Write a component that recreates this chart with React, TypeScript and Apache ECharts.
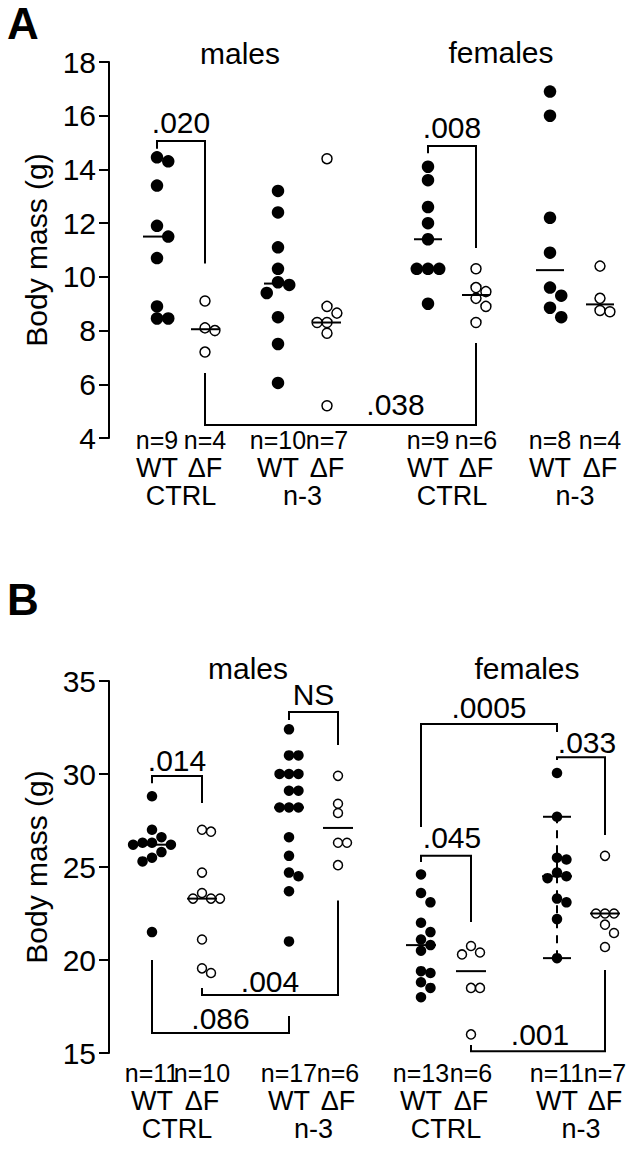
import React, { useEffect, useRef } from "react";
import * as echarts from "echarts";

// ---------------- Panel A data: body mass (g) ----------------
const aMalesCtrlWT = [14.45, 14.3, 13.4, 11.9, 11.5, 10.7, 8.9, 8.45, 8.45];
const aMalesCtrlDF = [9.1, 8.1, 8.0, 7.2];
const aMalesN3WT = [13.2, 12.4, 11.1, 10.3, 9.8, 9.7, 9.4, 8.5, 7.5, 6.05];
const aMalesN3DF = [14.4, 8.9, 8.65, 8.3, 8.3, 7.9, 5.2];
const aFemalesCtrlWT = [14.1, 13.6, 12.6, 12.0, 11.4, 10.3, 10.3, 10.3, 9.0];
const aFemalesCtrlDF = [10.3, 9.6, 9.45, 9.2, 8.9, 8.3];
const aFemalesN3WT = [16.9, 16.0, 12.2, 10.9, 9.6, 9.3, 8.85, 8.5];
const aFemalesN3DF = [10.4, 9.2, 8.75, 8.7];
const aYRange = { min: 4, max: 18, interval: 2 };
const aBrackets = [
  { from: 0, to: 1, bar: 15.06, left: 14.77, right: 10.5, label: ".020", labelY: 15.75 },
  { from: 4, to: 5, bar: 14.87, left: 14.6, right: 11.07, label: ".008", labelY: 15.55 },
  { from: 1, to: 5, bar: 4.48, left: 6.42, right: 7.54, label: ".038", labelY: 5.23 },
];

// ---------------- Panel B data: body mass (g) ----------------
const bMalesCtrlWT = [28.8, 27.0, 26.6, 26.3, 26.3, 26.2, 26.2, 25.8, 25.5, 25.3, 21.5];
const bMalesCtrlDF = [27.0, 26.9, 24.7, 23.6, 23.3, 23.3, 23.3, 21.1, 19.55, 19.3];
const bMalesN3WT = [32.4, 31.0, 31.0, 30.0, 30.0, 30.0, 29.1, 29.1, 28.2, 28.2, 28.2, 26.6, 25.6, 24.7, 24.5, 23.7, 21.0];
const bMalesN3DF = [29.9, 28.4, 27.9, 26.3, 26.3, 25.1];
const bFemalesCtrlWT = [24.6, 23.6, 23.1, 22.0, 21.5, 21.1, 20.8, 20.5, 19.4, 19.3, 18.8, 18.5, 18.0];
const bFemalesCtrlDF = [20.75, 20.4, 20.3, 18.5, 18.5, 16.0];
const bFemalesN3WT = [30.05, 27.7, 25.5, 25.4, 24.7, 24.5, 24.4, 23.3, 23.1, 22.2, 20.1];
const bFemalesN3DF = [25.6, 22.5, 22.5, 22.5, 21.9, 21.45, 20.7];
const bFemalesN3WTBar = [20.1, 27.7];
const bYRange = { min: 15, max: 35, interval: 5 };
const bBrackets = [
  { from: 0, to: 1, bar: 29.89, left: 29.5, right: 28.44, label: ".014", labelY: 30.75 },
  { from: 2, to: 3, bar: 33.33, left: 32.9, right: 31.56, label: "NS", labelY: 34.25 },
  { from: 4, to: 6, bar: 32.69, left: 27.15, right: 32.26, label: ".0005", labelY: 33.55 },
  { from: 6, to: 7, bar: 30.9, left: 30.75, right: 26.72, label: ".033", labelY: 31.7 },
  { from: 4, to: 5, bar: 25.6, left: 25.27, right: 22.04, label: ".045", labelY: 26.56 },
  { from: 1, to: 3, bar: 18.12, left: 18.49, right: 23.2, label: ".004", labelY: 18.82 },
  { from: 0, to: 2, bar: 16.08, left: 20.0, right: 16.99, label: ".086", labelY: 16.88 },
  { from: 5, to: 7, bar: 15.1, left: 15.43, right: 19.46, label: ".001", labelY: 15.97 },
];

const genotypes = ["WT", "ΔF"];
const diets = ["CTRL", "n-3", "CTRL", "n-3"];
const sexes = ["males", "females"];

// ---------------- Layout (pixels) ----------------
const FONT = "'Liberation Sans', Arial, Helvetica, sans-serif";
const X_MIN = 109;
const X_MAX = 633;
const layoutA = {
  centers: [157, 205, 278, 327, 428, 476, 550, 600],
  top: 62, bottom: 438, dot: 12.5, open: 10, half: 14, labelMargin: -12,
  bracketLabelDx: [0, 0, 55],
  letter: { text: "A", x: 7, y: 23 },
  sexPos: [{ x: 240, y: 53 }, { x: 501, y: 52 }],
};
const layoutB = {
  centers: [152, 202, 289, 338, 421, 471, 557, 605],
  top: 681, bottom: 1053, dot: 10.5, open: 9, half: 15, labelMargin: 6,
  bracketLabelDx: [0, 0, 0, 6, 6, 0, 0, 2],
  letter: { text: "B", x: 7, y: 599 },
  sexPos: [{ x: 248, y: 668 }, { x: 527, y: 668 }],
};

function median(v: number[]) {
  const s = [...v].sort((a, b) => a - b);
  const n = s.length;
  return n % 2 ? s[(n - 1) / 2] : (s[n / 2 - 1] + s[n / 2]) / 2;
}

// simple beeswarm: horizontal offsets (px) so dots do not overlap
function swarm(values: number[], center: number, diam: number, pxPerUnit: number) {
  const order = values.map((_, i) => i).sort((a, b) => values[b] - values[a]);
  const placed: { dx: number; v: number }[] = [];
  const out: number[][] = new Array(values.length);
  const step = diam * 0.9;
  const minD2 = diam * diam * 0.8;
  for (const i of order) {
    const v = values[i];
    const cands = [0];
    for (let k = 1; k < 8; k++) cands.push(k * step, -k * step);
    for (const dx of cands) {
      const ok = placed.every((p) => {
        const dy = (p.v - v) * pxPerUnit;
        const ddx = p.dx - dx;
        return ddx * ddx + dy * dy >= minD2;
      });
      if (ok) {
        placed.push({ dx, v });
        out[i] = [center + dx, v];
        break;
      }
    }
  }
  return out;
}

function buildPanel(
  idx: number,
  groups: number[][],
  yr: { min: number; max: number; interval: number },
  brackets: any[],
  L: any
) {
  const grid = { left: X_MIN, width: X_MAX - X_MIN, top: L.top, height: L.bottom - L.top };
  const pxPerUnit = (L.bottom - L.top) / (yr.max - yr.min);
  const pairCenters = [0, 1, 2, 3].map((k) => (L.centers[2 * k] + L.centers[2 * k + 1]) / 2);
  const findIdx = (arr: number[], v: number) => arr.findIndex((c) => Math.abs(c - v) < 0.6);
  const base = { color: "#000", fontFamily: FONT };
  const hidden = { axisLine: { show: false }, axisTick: { show: false }, splitLine: { show: false } };
  // one label axis per genotype so that neighbouring labels are never thinned out
  const genoAxis = (parity: number) => {
    const vals = L.centers.filter((_: number, i: number) => i % 2 === parity);
    return {
      gridIndex: idx, type: "value", min: X_MIN, max: X_MAX, position: "bottom", ...hidden,
      axisLabel: {
        ...base, fontSize: 27, lineHeight: 28, margin: L.labelMargin,
        customValues: vals, hideOverlap: false, showMinLabel: true, showMaxLabel: true,
        rich: {
          n: { ...base, fontSize: 25, lineHeight: 28 },
          g: { ...base, fontSize: 27, lineHeight: 28 },
        },
        formatter: (v: number) => {
          const i = findIdx(L.centers, v);
          return i < 0 ? "" : `{n|n=${groups[i].length}}\n{g|${genotypes[i % 2]}}`;
        },
      },
    };
  };
  const xAxes = [
    genoAxis(0),
    genoAxis(1),
    {
      gridIndex: idx, type: "value", min: X_MIN, max: X_MAX, position: "bottom", ...hidden,
      axisLabel: {
        ...base, fontSize: 27, lineHeight: 28, margin: L.labelMargin + 56,
        customValues: pairCenters, hideOverlap: false, showMinLabel: true, showMaxLabel: true,
        formatter: (v: number) => {
          const i = findIdx(pairCenters, v);
          return i < 0 ? "" : diets[i];
        },
      },
    },
  ];
  const yAxis = {
    gridIndex: idx, type: "value", min: yr.min, max: yr.max, interval: yr.interval,
    axisLine: { show: true, lineStyle: { color: "#000", width: 2 } },
    axisTick: { show: true, length: 10, lineStyle: { color: "#000", width: 2 } },
    axisLabel: { fontSize: 30, color: "#000", fontFamily: FONT, margin: 13 },
    splitLine: { show: false },
    name: "Body mass (g)", nameLocation: "middle", nameGap: 56,
    nameTextStyle: { fontSize: 30, color: "#000", fontFamily: FONT },
  };
  const xi = idx * 3;
  const series: any[] = [];
  groups.forEach((g, k) => {
    const filled = k % 2 === 0;
    series.push({
      type: "scatter", xAxisIndex: xi, yAxisIndex: idx, silent: true, z: 3,
      symbol: "circle", symbolSize: filled ? L.dot : L.open,
      itemStyle: filled
        ? { color: "#000", opacity: 1 }
        : { color: "#fff", borderColor: "#000", borderWidth: 1.5, opacity: 1 },
      data: swarm(g, L.centers[k], filled ? L.dot : L.open + 1, pxPerUnit),
    });
  });
  series.push({
    type: "custom", xAxisIndex: xi, yAxisIndex: idx, silent: true, z: 4, clip: false,
    data: groups.map((g, k) => [L.centers[k], median(g)]),
    renderItem: (params: any, api: any) => {
      const x = api.value(0), m = api.value(1);
      const p1 = api.coord([x - L.half, m]);
      const p2 = api.coord([x + L.half, m]);
      return { type: "line", shape: { x1: p1[0], y1: p1[1], x2: p2[0], y2: p2[1] }, style: { stroke: "#000", lineWidth: 2 } };
    },
  });
  series.push({
    type: "custom", xAxisIndex: xi, yAxisIndex: idx, silent: true, z: 2, clip: false,
    data: brackets.map((b) => [(L.centers[b.from] + L.centers[b.to]) / 2, b.bar]),
    renderItem: (params: any, api: any) => {
      const b = brackets[params.dataIndex];
      const x1 = L.centers[b.from], x2 = L.centers[b.to];
      const pts = [api.coord([x1, b.left]), api.coord([x1, b.bar]), api.coord([x2, b.bar]), api.coord([x2, b.right])];
      const lp = api.coord([(x1 + x2) / 2 + L.bracketLabelDx[params.dataIndex], b.labelY]);
      return {
        type: "group",
        children: [
          { type: "polyline", shape: { points: pts }, style: { stroke: "#000", lineWidth: 2, fill: "none" } },
          {
            type: "text", x: lp[0], y: lp[1],
            style: { text: b.label, fontSize: 30, fontFamily: FONT, fill: "#000", align: "center", verticalAlign: "middle" },
          },
        ],
      };
    },
  });
  return { grid, xAxes, yAxis, series };
}

function buildOption() {
  const pA = buildPanel(0,
    [aMalesCtrlWT, aMalesCtrlDF, aMalesN3WT, aMalesN3DF, aFemalesCtrlWT, aFemalesCtrlDF, aFemalesN3WT, aFemalesN3DF],
    aYRange, aBrackets, layoutA);
  const pB = buildPanel(1,
    [bMalesCtrlWT, bMalesCtrlDF, bMalesN3WT, bMalesN3DF, bFemalesCtrlWT, bFemalesCtrlDF, bFemalesN3WT, bFemalesN3DF],
    bYRange, bBrackets, layoutB);
  // dashed range bar on the female n-3 WT group in panel B
  pB.series.push({
    type: "custom", xAxisIndex: 3, yAxisIndex: 1, silent: true, z: 2, clip: false,
    data: [[layoutB.centers[6], bFemalesN3WTBar[0], bFemalesN3WTBar[1]]],
    renderItem: (params: any, api: any) => {
      const x = api.value(0), lo = api.value(1), hi = api.value(2);
      const a = api.coord([x, lo]), b = api.coord([x, hi]);
      const l1 = api.coord([x - 14, lo]), r1 = api.coord([x + 14, lo]);
      const l2 = api.coord([x - 14, hi]), r2 = api.coord([x + 14, hi]);
      const st = { stroke: "#000", lineWidth: 2 };
      return {
        type: "group",
        children: [
          { type: "line", shape: { x1: a[0], y1: a[1], x2: b[0], y2: b[1] }, style: { ...st, lineDash: [8, 7] } },
          { type: "line", shape: { x1: l1[0], y1: l1[1], x2: r1[0], y2: r1[1] }, style: st },
          { type: "line", shape: { x1: l2[0], y1: l2[1], x2: r2[0], y2: r2[1] }, style: st },
        ],
      };
    },
  });
  const graphic: any[] = [];
  [layoutA, layoutB].forEach((L) => {
    graphic.push({
      type: "text", x: L.letter.x, y: L.letter.y,
      style: { text: L.letter.text, fontSize: 44, fontWeight: "bold", fontFamily: FONT, fill: "#000", verticalAlign: "middle" },
    });
    L.sexPos.forEach((p: any, k: number) => {
      graphic.push({
        type: "text", x: p.x, y: p.y,
        style: { text: sexes[k], fontSize: 30, fontFamily: FONT, fill: "#000", align: "center", verticalAlign: "middle" },
      });
    });
  });
  return {
    animation: false,
    backgroundColor: "#fff",
    textStyle: { fontFamily: FONT },
    grid: [pA.grid, pB.grid],
    xAxis: [...pA.xAxes, ...pB.xAxes],
    yAxis: [pA.yAxis, pB.yAxis],
    series: [...pA.series, ...pB.series],
    graphic,
  };
}

export default function App() {
  const ref = useRef<HTMLDivElement>(null);
  useEffect(() => {
    const chart = echarts.init(ref.current!, null, { renderer: "svg" });
    chart.setOption(buildOption() as any);
    return () => chart.dispose();
  }, []);
  return (
    <div
      ref={ref}
      style={{ position: "absolute", left: 0, top: 0, width: 633, height: 1149, background: "#fff" }}
    />
  );
}
